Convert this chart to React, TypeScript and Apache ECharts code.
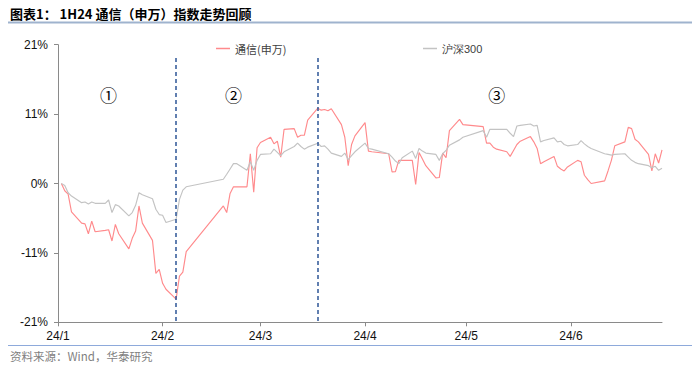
import React, { useEffect, useRef } from 'react';
import * as echarts from 'echarts';

const title = '图表1： 1H24 通信（申万）指数走势回顾';
const source = '资料来源：Wind，华泰研究';
const seriesNames = ['通信(申万)', '沪深300'];
const phaseLabels = ['①', '②', '③'];
const phaseLabelDates = ['2024-01-16', '2024-02-22', '2024-05-10'];
const dividerDates = ['2024-02-05', '2024-03-18'];
const monthTicks = ['2024-01-01', '2024-02-01', '2024-03-01', '2024-04-01', '2024-05-01', '2024-06-01'];
const axisMin = '2024-01-01';
const axisMax = '2024-06-28';

const redDates = [
  '2024-01-02', '2024-01-03', '2024-01-04', '2024-01-05', '2024-01-08', '2024-01-09', '2024-01-10', '2024-01-11', '2024-01-12',
  '2024-01-15', '2024-01-16', '2024-01-17', '2024-01-18', '2024-01-19', '2024-01-22', '2024-01-23', '2024-01-24', '2024-01-25',
  '2024-01-26', '2024-01-29', '2024-01-30', '2024-01-31', '2024-02-01', '2024-02-02', '2024-02-05', '2024-02-06', '2024-02-07',
  '2024-02-08', '2024-02-19', '2024-02-20', '2024-02-21', '2024-02-22', '2024-02-23', '2024-02-26', '2024-02-27', '2024-02-28',
  '2024-02-29', '2024-03-01', '2024-03-04', '2024-03-05', '2024-03-06', '2024-03-07', '2024-03-08', '2024-03-11', '2024-03-12',
  '2024-03-13', '2024-03-14', '2024-03-15', '2024-03-18', '2024-03-19', '2024-03-20', '2024-03-21', '2024-03-22', '2024-03-25',
  '2024-03-26', '2024-03-27', '2024-03-28', '2024-03-29', '2024-04-01', '2024-04-02', '2024-04-03', '2024-04-08', '2024-04-09',
  '2024-04-10', '2024-04-11', '2024-04-12', '2024-04-15', '2024-04-16', '2024-04-17', '2024-04-18', '2024-04-19', '2024-04-22',
  '2024-04-23', '2024-04-24', '2024-04-25', '2024-04-26', '2024-04-29', '2024-04-30', '2024-05-06', '2024-05-07', '2024-05-08',
  '2024-05-09', '2024-05-10', '2024-05-13', '2024-05-14', '2024-05-15', '2024-05-16', '2024-05-17', '2024-05-20', '2024-05-21',
  '2024-05-22', '2024-05-23', '2024-05-24', '2024-05-27', '2024-05-28', '2024-05-29', '2024-05-30', '2024-05-31', '2024-06-03',
  '2024-06-04', '2024-06-05', '2024-06-06', '2024-06-07', '2024-06-11', '2024-06-12', '2024-06-13', '2024-06-14', '2024-06-17',
  '2024-06-18', '2024-06-19', '2024-06-20', '2024-06-21', '2024-06-24', '2024-06-25', '2024-06-26', '2024-06-27', '2024-06-28',
];
const redValues = [
  0, -1.1, -1.6, -4.3, -6.0, -6.1, -7.6, -5.7, -7.3,
  -7.1, -7.0, -8.7, -6.2, -7.6, -9.9, -8.3, -7.2, -3.4,
  -6.0, -8.6, -13.6, -13.0, -15.1, -16.0, -17.5, -14.0, -13.4,
  -10.3, -3.4, -4.4, -1.5, -0.5, -0.5, -0.5, 4.5, -1.3,
  5.4, 6.2, 7.0, 6.0, 6.4, 4.0, 8.2, 8.3, 7.0,
  7.3, 7.3, 9.6, 11.4, 11.1, 11.2, 11.0, 11.3, 8.9,
  7.0, 2.7, 5.9, 7.2, 9.2, 4.9, 4.8, 4.5, 1.75,
  1.8, 3.5, 3.5, 3.5, -0.15, 4.7, 3.7, 2.7, 0.85,
  0.9, 4.6, 3.9, 8.0, 9.7, 8.9, 8.6, 6.1, 6.1,
  5.5, 5.2, 4.8, 4.1, 5.0, 5.9, 6.4, 7.1, 6.3,
  5.3, 3.0, 3.3, 4.1, 2.6, 2.2, 1.9, 2.5, 3.5,
  3.3, 1.25, 0.6, 0.0, 0.4, 1.9, 3.5, 5.7, 6.3,
  8.5, 8.3, 6.7, 6.3, 4.4, 1.9, 4.5, 3.1, 5.1,
];

const grayDates = redDates;
const grayValues = [
  0, -0.3, -1.4, -1.9, -2.9, -2.8, -3.1, -2.8, -3.0,
  -3.0, -2.5, -4.4, -3.2, -3.4, -4.9, -4.4, -3.3, -1.4,
  -1.7, -2.3, -3.9, -4.7, -4.8, -5.9, -5.4, -2.4, -1.0,
  -0.5, 0.65, 1.4, 2.2, 3.0, 3.0, 2.0, 3.3, 2.0,
  3.5, 4.4, 4.5, 5.2, 4.7, 4.2, 4.8, 5.6, 6.1,
  5.6, 5.2, 5.5, 6.1, 5.6, 5.7, 5.2, 4.6, 4.1,
  4.6, 3.6, 4.2, 4.8, 6.1, 5.3, 5.2, 4.5, 4.0,
  3.4, 3.0, 3.9, 4.9, 3.8, 5.3, 4.9, 4.6, 4.4,
  3.5, 4.5, 5.0, 5.8, 6.6, 7.0, 8.0, 7.0, 8.2,
  8.2, 8.2, 8.2, 7.6, 7.1, 8.7, 8.8, 9.0, 8.7,
  8.8, 6.3, 6.5, 6.9, 6.3, 6.4, 5.9, 5.7, 5.9,
  6.5, 6.0, 5.6, 5.3, 4.5, 4.4, 4.3, 4.4, 4.5,
  4.0, 3.5, 3.2, 3.0, 2.7, 2.4, 2.6, 2.0, 2.3,
];

const yMin = -21;
const yMax = 21;
const yInterval = 10.5;

function ts(s: string): number {
  const [y, m, d] = s.split('-').map(Number);
  return new Date(y, m - 1, d).getTime();
}

export default function App() {
  const ref = useRef<HTMLDivElement>(null);
  useEffect(() => {
    if (!ref.current) return;
    const chart = echarts.init(ref.current, undefined, { renderer: 'svg' });
    const tickVals = monthTicks.map(ts);
    const axisColor = '#8a8a8a';
    const labelFont = 'Liberation Sans';
    const cjk = 'Noto Sans CJK SC';
    const redColor = '#FF8A8C';
    const grayColor = '#C3C3C3';

    const markData = dividerDates.map((d) => [
      { coord: [ts(d), 19] },
      { coord: [ts(d), yMin] },
    ]);

    chart.setOption({
      animation: false,
      grid: { left: 58, right: 38, top: 44.7, bottom: 45.7, containLabel: false },
      xAxis: {
        type: 'value',
        min: ts(axisMin),
        max: ts(axisMax),
        axisLine: { show: true, onZero: false, lineStyle: { color: axisColor, width: 1 } },
        axisTick: { show: true, length: 4, customValues: tickVals, lineStyle: { color: axisColor } },
        axisLabel: {
          customValues: tickVals,
          formatter: (v: number) => {
            const dt = new Date(v);
            return String(dt.getFullYear()).slice(2) + '/' + (dt.getMonth() + 1);
          },
          color: '#111',
          fontSize: 12,
          fontFamily: labelFont,
          margin: 8,
          hideOverlap: false,
        },
        splitLine: { show: false },
      },
      yAxis: {
        type: 'value',
        min: yMin,
        max: yMax,
        interval: yInterval,
        axisLine: { show: true, onZero: false, lineStyle: { color: axisColor, width: 1 } },
        axisTick: { show: true, length: 4, lineStyle: { color: axisColor } },
        axisLabel: {
          formatter: (v: number) => (v < 0 ? '-' : '') + Math.round(Math.abs(v)) + '%',
          color: '#111',
          fontSize: 12,
          fontFamily: labelFont,
          margin: 10,
        },
        splitLine: { show: false },
      },
      legend: [
        {
          data: [seriesNames[0]],
          left: 216,
          top: 43,
          padding: 0,
          icon: 'rect',
          itemWidth: 14,
          itemHeight: 1.5,
          textStyle: { fontSize: 11, fontFamily: cjk, color: '#404040' },
        },
        {
          data: [seriesNames[1]],
          left: 423,
          top: 43,
          padding: 0,
          icon: 'rect',
          itemWidth: 14,
          itemHeight: 1.5,
          textStyle: { fontSize: 11, fontFamily: labelFont, color: '#404040' },
        },
      ],
      series: [
        {
          name: seriesNames[0],
          type: 'line',
          data: redDates.map((d, i) => [ts(d), redValues[i]]),
          symbol: 'none',
          showSymbol: false,
          color: redColor,
          itemStyle: { color: redColor },
          lineStyle: { color: redColor, width: 1.15 },
          z: 2,
          markLine: {
            silent: true,
            symbol: ['none', 'none'],
            label: { show: false },
            lineStyle: { color: '#2E5597', type: [4, 3], width: 1.5 },
            data: markData,
          },
        },
        {
          name: seriesNames[1],
          type: 'line',
          data: grayDates.map((d, i) => [ts(d), grayValues[i]]),
          symbol: 'none',
          showSymbol: false,
          color: grayColor,
          itemStyle: { color: grayColor },
          lineStyle: { color: grayColor, width: 1.15 },
          z: 3,
        },
      ],
    });

    const labelY = chart.convertToPixel({ yAxisIndex: 0 }, 13.4) as number;
    const phaseEls = phaseLabels.map((t, i) => ({
      type: 'text',
      style: {
        text: t,
        x: chart.convertToPixel({ xAxisIndex: 0 }, ts(phaseLabelDates[i])) as number,
        y: labelY,
        align: 'center',
        verticalAlign: 'middle',
        fontSize: 17,
        fontFamily: cjk,
        fill: '#000',
      },
    }));

    chart.setOption({
      graphic: [
        {
          type: 'text',
          style: {
            text: title,
            x: 10,
            y: 13,
            verticalAlign: 'middle',
            fontSize: 13,
            fontWeight: 'bold',
            fontFamily: cjk,
            fill: '#000',
          },
        },
        {
          type: 'line',
          shape: { x1: 8, y1: 22.5, x2: 692, y2: 22.5 },
          style: { stroke: '#9FB3CE', lineWidth: 2 },
        },
        {
          type: 'line',
          shape: { x1: 8, y1: 345.5, x2: 692, y2: 345.5 },
          style: { stroke: '#8EAADB', lineWidth: 1 },
        },
        {
          type: 'text',
          style: {
            text: source,
            x: 10,
            y: 356,
            verticalAlign: 'middle',
            fontSize: 11.5,
            fontFamily: cjk,
            fill: '#7F7F7F',
          },
        },
        ...phaseEls,
      ],
    });

    return () => chart.dispose();
  }, []);

  return (
    <div
      ref={ref}
      style={{ position: 'absolute', left: 0, top: 0, width: 700, height: 368, background: '#fff' }}
    />
  );
}
